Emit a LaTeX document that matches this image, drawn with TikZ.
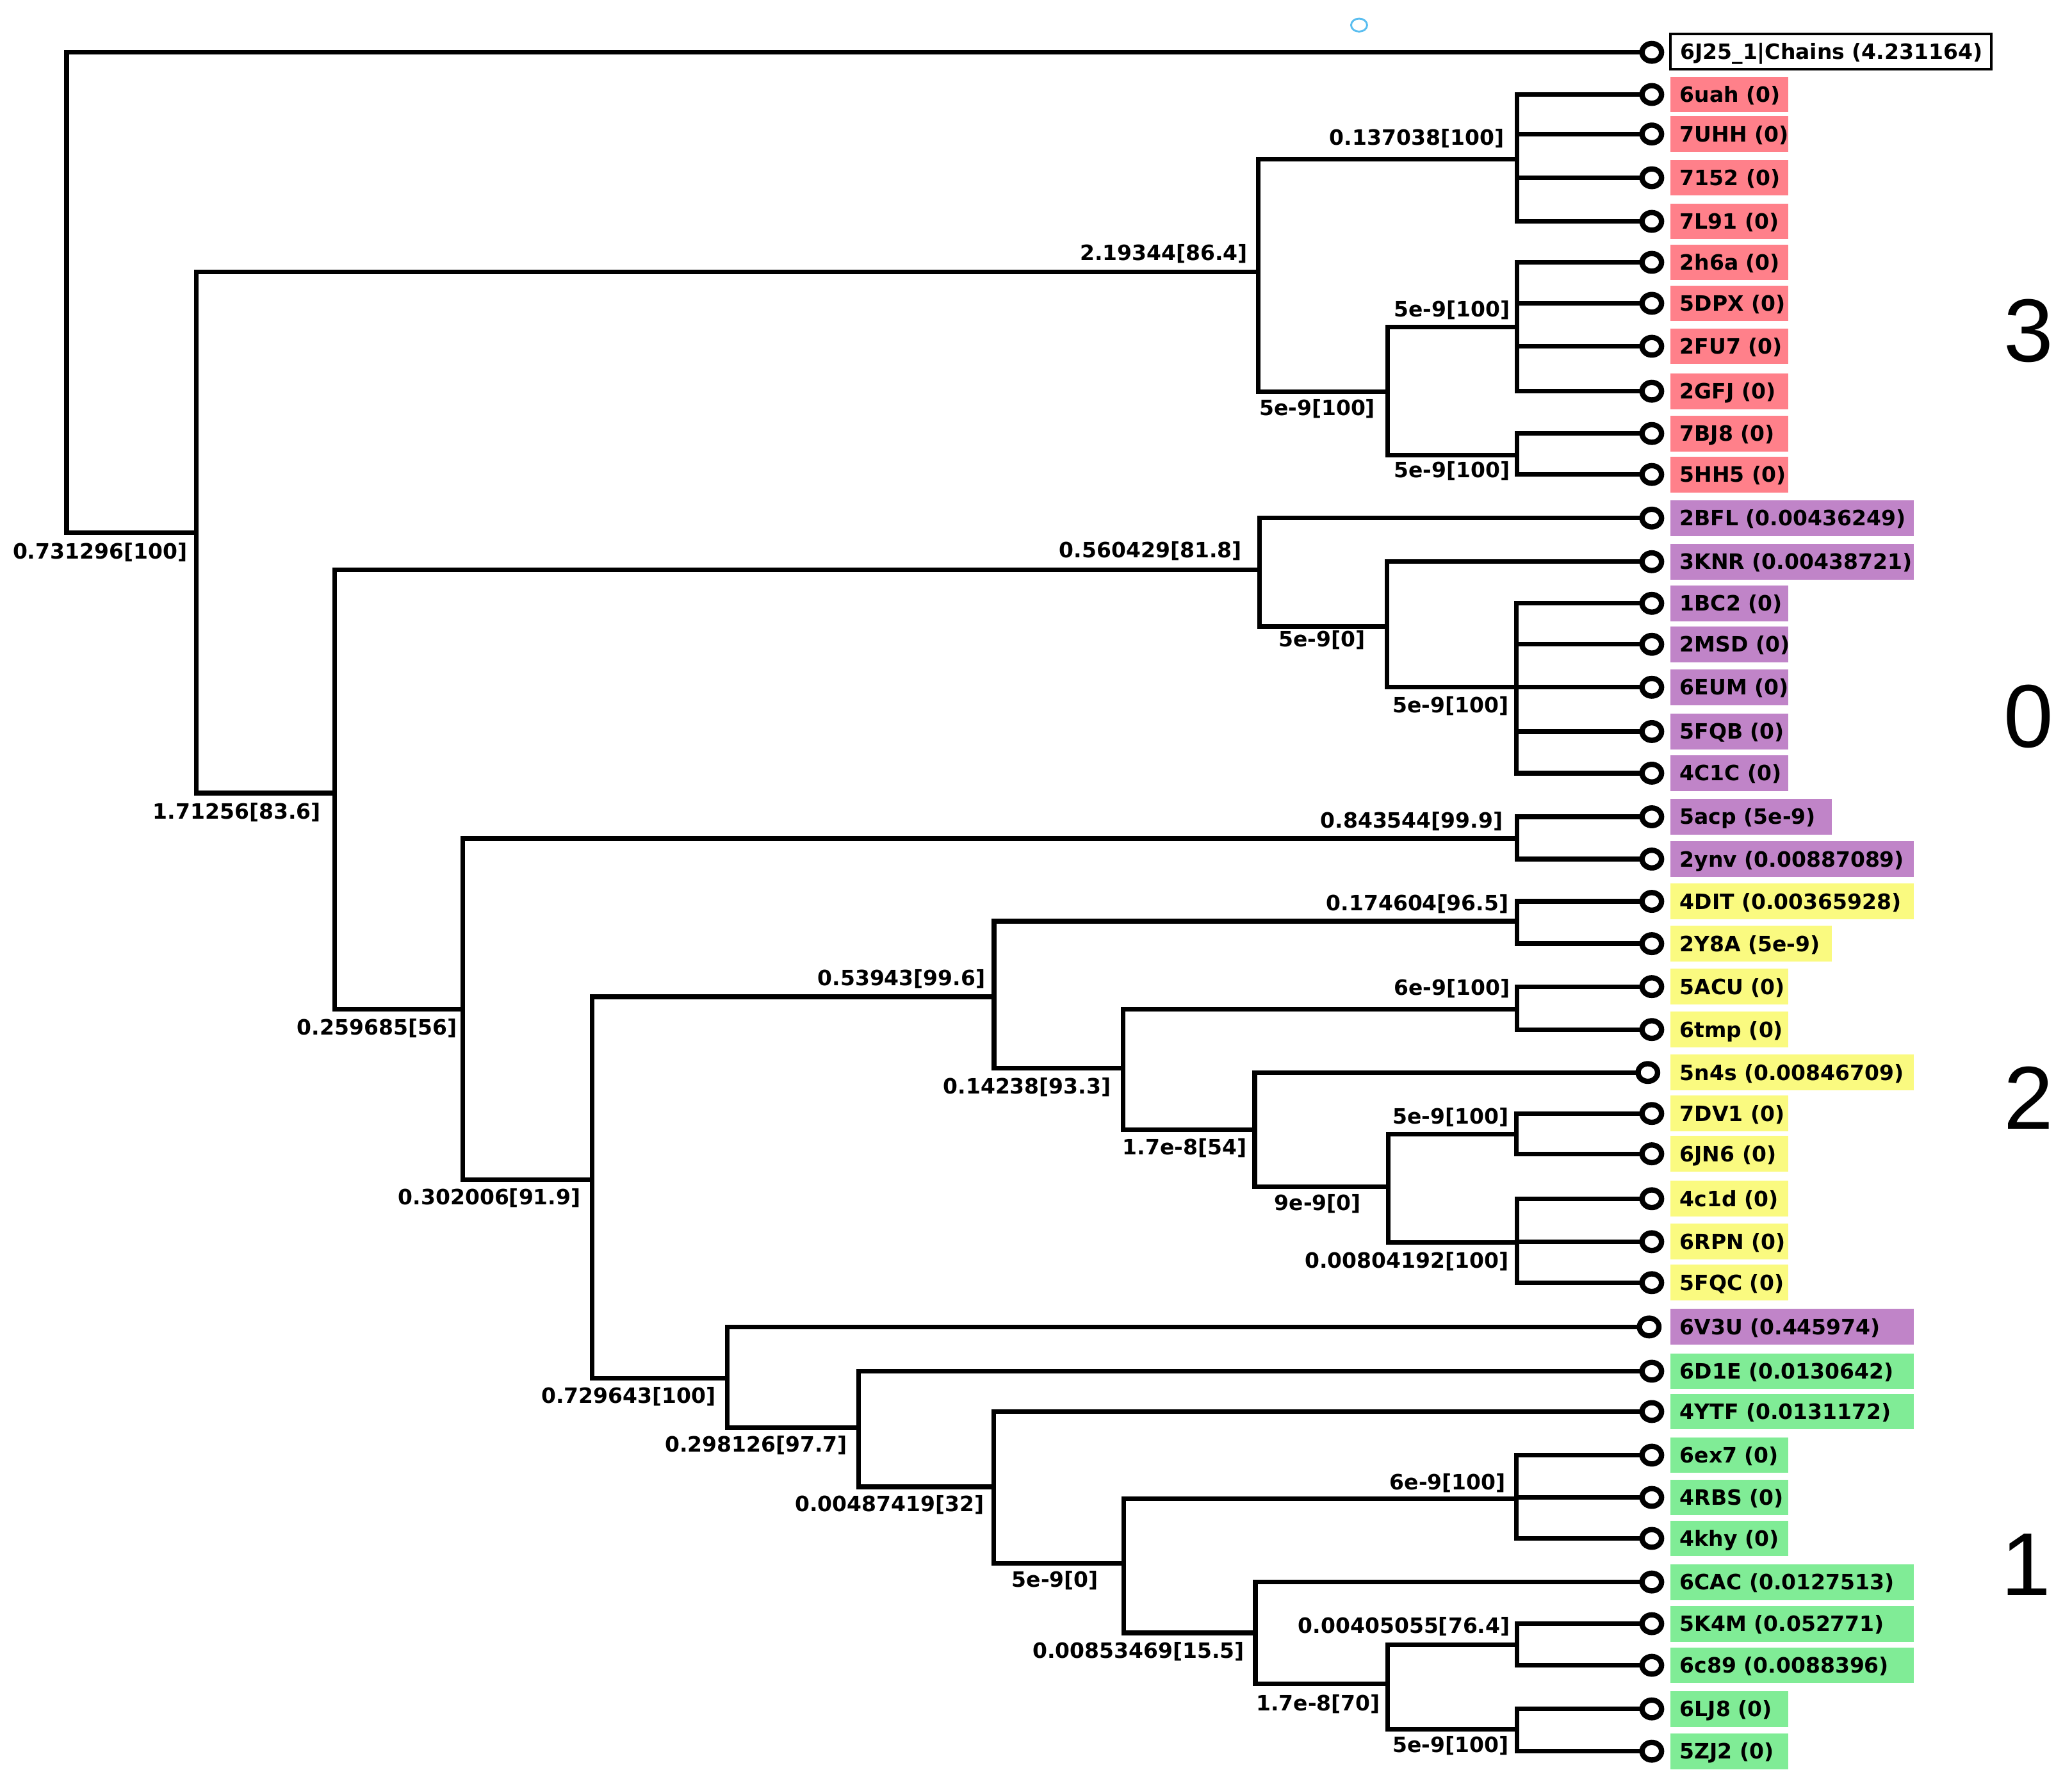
\documentclass[tikz,border=0pt]{standalone}
\usepackage{fontspec}
\usetikzlibrary{shapes.geometric,backgrounds}
\newfontfamily\dvsans{DejaVu Sans}
\newfontfamily\bigsans{Liberation Sans}
\newcommand\labfont{\dvsans\bfseries\fontsize{9.1pt}{11pt}\selectfont}
\newcommand\grpfont{\bigsans\fontsize{38.5pt}{40pt}\selectfont}
\definecolor{cred}{RGB}{255,128,138}
\definecolor{cpur}{RGB}{192,132,200}
\definecolor{cyel}{RGB}{250,250,128}
\definecolor{cgrn}{RGB}{128,236,150}
\definecolor{cblu}{RGB}{90,190,240}
\tikzset{
  branch/.style={line width=2pt, line cap=rect, line join=miter},
  tipc/.style={draw, ellipse, line width=2.3pt, minimum width=8.4pt, minimum height=7.6pt, inner sep=0pt, fill=white},
  blab/.style={font=\labfont, inner sep=0pt, text height=6.6pt, text depth=0pt, anchor=east},
  lbox/.style={anchor=west, inner xsep=4.2pt, inner ysep=0pt, minimum height=15.4pt, font=\labfont, text height=6.6pt, text depth=0pt},
  grp/.style={font=\grpfont, inner sep=0pt, text height=27.6pt, text depth=0pt},
}
\newcommand\leafitem[6]{%
  \node[tipc] (c#1) at (#6,#2) {};
  \node[lbox, fill=#3] (t#1) at (1263.5,#2) {\makebox[#4][l]{#5}};
}
\begin{document}
\begin{tikzpicture}[x=0.02cm, y=-0.02cm]
\useasboundingbox (0,0) rectangle (1568,1351);

% internal nodes
\coordinate (nR) at (50.4,403);
\coordinate (nB) at (148.4,403);
\coordinate (nU) at (952,205.8);
\coordinate (nV) at (1148,120.5);
\coordinate (nW) at (1050,296.5);
\coordinate (nX) at (1148,247.5);
\coordinate (nY) at (1148,344.5);
\coordinate (nC) at (253.3,600);
\coordinate (nZ) at (953,431);
\coordinate (nAA) at (1049.5,474);
\coordinate (nAB) at (1147.5,520);
\coordinate (nD) at (350.2,763.7);
\coordinate (nAC) at (1148,634.5);
\coordinate (nE) at (448.2,892.6);
\coordinate (nF) at (752.3,754.2);
\coordinate (nAD) at (1148,697);
\coordinate (nH) at (850,808.3);
\coordinate (nAE) at (1148,763.7);
\coordinate (nI) at (949.5,854.6);
\coordinate (nJ) at (1050.5,898);
\coordinate (nL) at (1147.5,858);
\coordinate (nK) at (1148,940);
\coordinate (nG) at (550.3,1043);
\coordinate (nM) at (649.6,1080.3);
\coordinate (nN) at (752,1125);
\coordinate (nO) at (850.5,1182.8);
\coordinate (nP) at (1147.5,1134);
\coordinate (nQ) at (950,1235.5);
\coordinate (nRR) at (1050,1274);
\coordinate (nS) at (1148,1244.5);
\coordinate (nT) at (1148,1308.5);

% leaves
\node[tipc] (c1) at (1250,39.6) {};
\node[draw, line width=1.1pt, anchor=west, inner xsep=4.3pt, inner ysep=0pt, minimum height=15.2pt, font=\labfont, text height=6.6pt, text depth=0pt] (t1) at (1263,39) {\makebox[129.6pt][l]{6J25\_1|Chains (4.231164)}};
\leafitem{2}{71.5}{cred}{42.6pt}{6uah (0)}{1250}
\leafitem{3}{101.4}{cred}{42.6pt}{7UHH (0)}{1250}
\leafitem{4}{134.5}{cred}{42.6pt}{7152 (0)}{1250}
\leafitem{5}{167.5}{cred}{42.6pt}{7L91 (0)}{1250}
\leafitem{6}{198.5}{cred}{42.6pt}{2h6a (0)}{1250}
\leafitem{7}{229.5}{cred}{42.6pt}{5DPX (0)}{1250}
\leafitem{8}{262}{cred}{42.6pt}{2FU7 (0)}{1250}
\leafitem{9}{296}{cred}{42.6pt}{2GFJ (0)}{1250}
\leafitem{10}{328}{cred}{42.6pt}{7BJ8 (0)}{1250}
\leafitem{11}{359}{cred}{42.6pt}{5HH5 (0)}{1250}
\leafitem{12}{392}{cpur}{96.5pt}{2BFL (0.00436249)}{1250}
\leafitem{13}{425}{cpur}{96.5pt}{3KNR (0.00438721)}{1250}
\leafitem{14}{456.5}{cpur}{42.6pt}{1BC2 (0)}{1250}
\leafitem{15}{487.5}{cpur}{42.6pt}{2MSD (0)}{1250}
\leafitem{16}{520}{cpur}{42.6pt}{6EUM (0)}{1250}
\leafitem{17}{553.5}{cpur}{42.6pt}{5FQB (0)}{1250}
\leafitem{18}{585}{cpur}{42.6pt}{4C1C (0)}{1250}
\leafitem{19}{618}{cpur}{61.3pt}{5acp (5e-9)}{1250}
\leafitem{20}{650}{cpur}{96.5pt}{2ynv (0.00887089)}{1250}
\leafitem{21}{682}{cyel}{96.5pt}{4DIT (0.00365928)}{1250}
\leafitem{22}{714}{cyel}{61.3pt}{2Y8A (5e-9)}{1250}
\leafitem{23}{746.5}{cyel}{42.6pt}{5ACU (0)}{1250}
\leafitem{24}{779}{cyel}{42.6pt}{6tmp (0)}{1250}
\leafitem{25}{811.5}{cyel}{96.5pt}{5n4s (0.00846709)}{1247}
\leafitem{26}{842.5}{cyel}{42.6pt}{7DV1 (0)}{1250}
\leafitem{27}{873}{cyel}{42.6pt}{6JN6 (0)}{1250}
\leafitem{28}{907}{cyel}{42.6pt}{4c1d (0)}{1250}
\leafitem{29}{939.5}{cyel}{42.6pt}{6RPN (0)}{1250}
\leafitem{30}{970.5}{cyel}{42.6pt}{5FQC (0)}{1250}
\leafitem{31}{1004}{cpur}{96.5pt}{6V3U (0.445974)}{1248}
\leafitem{32}{1037.5}{cgrn}{96.5pt}{6D1E (0.0130642)}{1250}
\leafitem{33}{1068}{cgrn}{96.5pt}{4YTF (0.0131172)}{1250}
\leafitem{34}{1101}{cgrn}{42.6pt}{6ex7 (0)}{1250}
\leafitem{35}{1133}{cgrn}{42.6pt}{4RBS (0)}{1250}
\leafitem{36}{1164}{cgrn}{42.6pt}{4khy (0)}{1250}
\leafitem{37}{1197}{cgrn}{96.5pt}{6CAC (0.0127513)}{1250}
\leafitem{38}{1228.5}{cgrn}{96.5pt}{5K4M (0.052771)}{1250}
\leafitem{39}{1260}{cgrn}{96.5pt}{6c89 (0.0088396)}{1250}
\leafitem{40}{1293}{cgrn}{42.6pt}{6LJ8 (0)}{1250}
\leafitem{41}{1325}{cgrn}{42.6pt}{5ZJ2 (0)}{1250}

% branches (behind the tips)
\begin{pgfonlayer}{background}
\draw[branch] (nR) |- (c1.west);
\draw[branch] (nR) |- (nB);
\draw[branch] (nB) |- (nU);
\draw[branch] (nB) |- (nC);
\draw[branch] (nU) |- (nV);
\draw[branch] (nU) |- (nW);
\foreach \k in {2,3,4,5} \draw[branch] (nV) |- (c\k.west);
\draw[branch] (nW) |- (nX);
\draw[branch] (nW) |- (nY);
\foreach \k in {6,7,8,9} \draw[branch] (nX) |- (c\k.west);
\foreach \k in {10,11} \draw[branch] (nY) |- (c\k.west);
\draw[branch] (nC) |- (nZ);
\draw[branch] (nC) |- (nD);
\draw[branch] (nZ) |- (c12.west);
\draw[branch] (nZ) |- (nAA);
\draw[branch] (nAA) |- (c13.west);
\draw[branch] (nAA) |- (nAB);
\foreach \k in {14,15,16,17,18} \draw[branch] (nAB) |- (c\k.west);
\draw[branch] (nD) |- (nAC);
\draw[branch] (nD) |- (nE);
\foreach \k in {19,20} \draw[branch] (nAC) |- (c\k.west);
\draw[branch] (nE) |- (nF);
\draw[branch] (nE) |- (nG);
\draw[branch] (nF) |- (nAD);
\draw[branch] (nF) |- (nH);
\foreach \k in {21,22} \draw[branch] (nAD) |- (c\k.west);
\draw[branch] (nH) |- (nAE);
\draw[branch] (nH) |- (nI);
\foreach \k in {23,24} \draw[branch] (nAE) |- (c\k.west);
\draw[branch] (nI) |- (c25.west);
\draw[branch] (nI) |- (nJ);
\draw[branch] (nJ) |- (nL);
\draw[branch] (nJ) |- (nK);
\foreach \k in {26,27} \draw[branch] (nL) |- (c\k.west);
\foreach \k in {28,29,30} \draw[branch] (nK) |- (c\k.west);
\draw[branch] (nG) |- (c31.west);
\draw[branch] (nG) |- (nM);
\draw[branch] (nM) |- (c32.west);
\draw[branch] (nM) |- (nN);
\draw[branch] (nN) |- (c33.west);
\draw[branch] (nN) |- (nO);
\draw[branch] (nO) |- (nP);
\draw[branch] (nO) |- (nQ);
\foreach \k in {34,35,36} \draw[branch] (nP) |- (c\k.west);
\draw[branch] (nQ) |- (c37.west);
\draw[branch] (nQ) |- (nRR);
\draw[branch] (nRR) |- (nS);
\draw[branch] (nRR) |- (nT);
\foreach \k in {38,39} \draw[branch] (nS) |- (c\k.west);
\foreach \k in {40,41} \draw[branch] (nT) |- (c\k.west);
\end{pgfonlayer}

% branch labels
\node[blab] (b1) at (142,417) {0.731296[100]};
\node[blab] (b2) at (944.5,191) {2.19344[86.4]};
\node[blab] (b3) at (243,613.7) {1.71256[83.6]};
\node[blab] (b4) at (1138.5,104) {0.137038[100]};
\node[blab] (b5) at (1143,233.7) {5e-9[100]};
\node[blab] (b6) at (1041,308.6) {5e-9[100]};
\node[blab] (b7) at (1143,355.4) {5e-9[100]};
\node[blab] (b8) at (940,416) {0.560429[81.8]};
\node[blab] (b9) at (1033.5,483.7) {5e-9[0]};
\node[blab] (b10) at (1142,533.4) {5e-9[100]};
\node[blab] (b11) at (346,777) {0.259685[56]};
\node[blab] (b12) at (1137.6,620.5) {0.843544[99.9]};
\node[blab] (b13) at (1142,683.4) {0.174604[96.5]};
\node[blab] (b14) at (746,740) {0.53943[99.6]};
\node[blab] (b15) at (1143,747.3) {6e-9[100]};
\node[blab] (b16) at (841,821.8) {0.14238[93.3]};
\node[blab] (b17) at (943.8,868) {1.7e-8[54]};
\node[blab] (b18) at (1142,844.6) {5e-9[100]};
\node[blab] (b19) at (1030.3,910.2) {9e-9[0]};
\node[blab] (b20) at (1142,953.5) {0.00804192[100]};
\node[blab] (b21) at (439.7,905.5) {0.302006[91.9]};
\node[blab] (b22) at (542,1056) {0.729643[100]};
\node[blab] (b23) at (641.5,1093) {0.298126[97.7]};
\node[blab] (b24) at (745,1138) {0.00487419[32]};
\node[blab] (b25) at (1139.7,1121.5) {6e-9[100]};
\node[blab] (b26) at (831.6,1195) {5e-9[0]};
\node[blab] (b27) at (942,1248.6) {0.00853469[15.5]};
\node[blab] (b28) at (1143,1229.8) {0.00405055[76.4]};
\node[blab] (b29) at (1044.8,1288.7) {1.7e-8[70]};
\node[blab] (b30) at (1142,1320) {5e-9[100]};

% group numbers
\node[grp] (g3) at (1535,249.5) {3};
\node[grp] (g0) at (1535,541) {0};
\node[grp] (g2) at (1535,830) {2};
\node[grp] (g1) at (1533,1183) {1};

% small marker
\node[draw=cblu, ellipse, line width=0.8pt, minimum width=6.9pt, minimum height=5.6pt, inner sep=0pt] (mk) at (1028.5,19) {};
\end{tikzpicture}
\end{document}
